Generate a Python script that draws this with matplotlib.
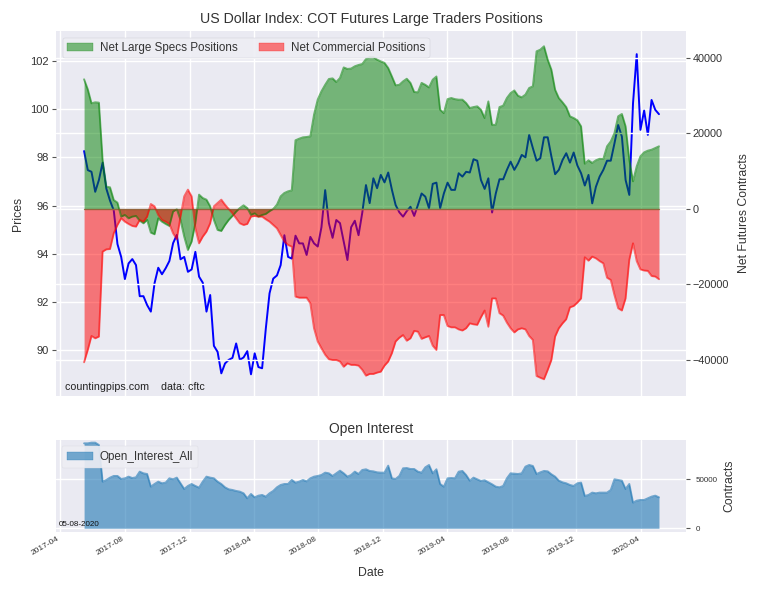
import pandas as pd
import matplotlib
matplotlib.use("Agg")
import matplotlib.pyplot as plt
import matplotlib.dates as mdates
from matplotlib.patches import Patch

plt.style.use("seaborn-v0_8")
plt.rcParams["font.family"] = ["Liberation Sans", "DejaVu Sans"]

# weekly COT report dates
dates = pd.date_range("2017-05-16", periods=156, freq="7D")

price = [98.26, 97.47, 97.4, 96.57, 97.06, 97.78, 96.7, 96.2, 95.8, 94.4, 93.87, 92.95, 93.6, 93.78, 93.53, 92.24,
         92.24, 91.87, 91.6, 92.78, 93.42, 93.15, 93.4, 93.7, 94.44, 94.78, 93.77, 93.87, 93.25, 93.35, 94.08, 93.05,
         92.8, 91.6, 92.29, 90.18, 89.93, 89.04, 89.45, 89.6, 89.68, 90.28, 89.6, 89.7, 89.96, 89.0, 89.87, 89.3,
         89.25, 90.9, 92.36, 92.97, 93.1, 93.53, 94.77, 93.87, 93.8, 94.75, 94.43, 94.43, 93.95, 94.7, 94.43, 94.3,
         95.1, 96.64, 95.27, 94.66, 95.4, 95.27, 94.5, 93.74, 95.1, 95.37, 94.77, 95.7, 96.85, 96.1, 97.13, 96.72,
         97.27, 96.96, 97.37, 96.65, 96.02, 95.72, 95.54, 95.77, 95.95, 95.57, 96.02, 96.5, 96.37, 95.89, 96.9, 96.95,
         95.89, 96.5, 96.95, 96.65, 96.65, 97.34, 97.2, 97.4, 97.37, 97.92, 97.86, 97.06, 96.69, 97.13, 95.71, 96.5,
         97.09, 97.09, 97.48, 97.82, 97.48, 97.75, 98.1, 98.0, 98.93, 98.38, 97.86, 97.96, 98.83, 98.83, 98.03, 97.3,
         97.48, 97.89, 98.17, 97.78, 98.2, 97.66, 97.34, 96.83, 97.27, 96.09, 96.78, 97.2, 97.48, 97.86, 97.86, 98.58,
         99.34, 98.86, 97.06, 96.44, 100.24, 102.28, 99.14, 99.94, 98.93, 100.38, 99.97, 99.79]

large_specs = [34350, 31700, 28000, 28260, 28170, 12980, 5920, 5740, 2384, 1680, -2030, -1590, -2470, -2030, -1850, -3090,
               -3800, -2900, -6270, -6700, -2470, -3360, -3970, -4500, -700, -90, -2900, -7330, -10860, -8650, -3800, 3800,
               2900, 2470, 700, -2900, -5560, -5830, -4240, -2900, -1850, -700, 260, 970, 260, -1590, -1150, -2030,
               -1590, -1320, -600, 0, 1150, 3350, 4240, 4680, 4940, 18200, 18630, 18980, 19070, 19250, 25000, 29000,
               31170, 32900, 34440, 34600, 33650, 34700, 37500, 37100, 37200, 37800, 38150, 38400, 39700, 40300, 40270, 39560,
               39100, 38700, 37350, 35100, 32760, 32900, 33800, 34500, 33400, 31000, 30900, 33400, 32900, 32200, 34260, 35100,
               26300, 25400, 29100, 29400, 29100, 28960, 28960, 28080, 26750, 27000, 27200, 26300, 24100, 28500, 22300, 22300,
               27000, 27370, 29400, 30700, 31400, 30000, 29580, 30300, 32050, 32500, 41770, 42200, 43100, 39560, 36900, 31600,
               29400, 28260, 27000, 24550, 24100, 23500, 21900, 12000, 12900, 12200, 12900, 13300, 13250, 16600, 17900, 20100,
               24550, 25170, 21900, 13070, 7330, 11300, 13950, 15000, 15450, 15700, 16160, 16600]

commercial = [-40600, -37350, -33640, -34260, -33800, -11300, -10700, -10600, -6450, -4240, -2470, -3360, -3970, -4500, -4680, -2900,
              -3360, -2030, 1320, 700, -1590, -2900, -3360, -3970, -6450, -8000, -2030, 3350, 5120, 3350, -5120, -9100,
              -7330, -6000, -3800, 700, 1590, 2470, 1150, 0, -1150, -2470, -3800, -4240, -3970, -2030, -1850, -2030,
              -2030, -2740, -3360, -4240, -5120, -6900, -8650, -9540, -9980, -23200, -23500, -23500, -23500, -25000, -31600, -35100,
              -36900, -38600, -39800, -40000, -40000, -40400, -41800, -40900, -41300, -41300, -41500, -42600, -44150, -43700, -43700, -43350,
              -43100, -41500, -40400, -38200, -35100, -34100, -33400, -34900, -34260, -32300, -32500, -34400, -34000, -33640, -36200, -37350,
              -28100, -28100, -31000, -31350, -31350, -31900, -32200, -31600, -30300, -30550, -30700, -28700, -26900, -31200, -23700, -23700,
              -27600, -28250, -30100, -31600, -32700, -31900, -31600, -31900, -33640, -34700, -44240, -44700, -45100, -42650, -40000, -33800,
              -31600, -30300, -29200, -26050, -25700, -24800, -23700, -12800, -13700, -12630, -13070, -13800, -14400, -18200, -18800, -22800,
              -26300, -26900, -23700, -13500, -9100, -13800, -16000, -16300, -16400, -17750, -17900, -18600]

open_interest = [86700, 86700, 87400, 87400, 85000, 47600, 49300, 51700, 53400, 53400, 50300, 51000, 52700, 51300, 52000, 57800,
                 56100, 55400, 42500, 45200, 47600, 45900, 46600, 51000, 50000, 51700, 45900, 40100, 43200, 45200, 43200, 41500,
                 47600, 52700, 51700, 51000, 47600, 45200, 41800, 39800, 39100, 38100, 37400, 35700, 30600, 35000, 31600, 33300,
                 34000, 32300, 35700, 38100, 41800, 44200, 45200, 45200, 49300, 46600, 47600, 49300, 47900, 51000, 52700, 53400,
                 54400, 56800, 56100, 53400, 56100, 58800, 56100, 52700, 54400, 57800, 55400, 59500, 60200, 58500, 58100, 57100,
                 56800, 56800, 63900, 51000, 50300, 53400, 61200, 61500, 60500, 60500, 57800, 56800, 62200, 64600, 56100, 60200,
                 45200, 42500, 51000, 51300, 51000, 57800, 58500, 54400, 48600, 51700, 50000, 48300, 49000, 46900, 44900, 42500,
                 41800, 43200, 51000, 56100, 55800, 55400, 56100, 62900, 64600, 63600, 55400, 57100, 58500, 58100, 55100, 52700,
                 48600, 46900, 45900, 44200, 43200, 45900, 46600, 33000, 34000, 36400, 35700, 36400, 36400, 36400, 39100, 50000,
                 49300, 48600, 40100, 45200, 26200, 28200, 28900, 28900, 30600, 32300, 33300, 31600]

price_ticks = [90, 92, 94, 96, 98, 100, 102]
net_ticks = [-40000, -20000, 0, 20000, 40000]
oi_ticks = [0, 50000]

text_color = "#333333"
label_size = 8.8
W, H = 760.0, 591.0

fig = plt.figure(figsize=(7.6, 5.91), dpi=100)
ax1 = fig.add_axes([56 / W, 1 - 396 / H, 630 / W, 365 / H])
ax3 = fig.add_axes([56 / W, 1 - 532 / H, 630 / W, 92 / H], sharex=ax1)

# price sits under the position fills, that's why it looks teal on green
ax1.plot(dates, price, color="blue", lw=1.4)
ax1.set_ylim(88.1, 103.24)
ax1.set_yticks(price_ticks)
ax1.set_ylabel("Prices", fontsize=label_size, color=text_color)
ax1.yaxis.set_label_coords(-0.05, 0.5)
ax1.set_title("US Dollar Index: COT Futures Large Traders Positions", fontsize=10.2, color=text_color, pad=6)
ax1.tick_params(axis="y", labelsize=8, length=3, width=0.8, pad=2, color="#555555", labelcolor=text_color, left=True)
ax1.tick_params(axis="x", labelbottom=False)

ax2 = ax1.twinx()
ax2.fill_between(dates, large_specs, 0, color="green", alpha=0.5, lw=0)
ax2.fill_between(dates, commercial, 0, color="red", alpha=0.5, lw=0)
ax2.plot(dates, large_specs, color="green", alpha=0.55, lw=1.4)
ax2.plot(dates, commercial, color="red", alpha=0.55, lw=1.4)
ax2.plot([dates[0], dates[-1]], [0, 0], color="#7a4a1a", alpha=0.7, lw=1)
ax2.set_ylim(-49540, 47150)
ax2.set_yticks(net_ticks)
ax2.set_ylabel("Net Futures Contracts", fontsize=label_size, color=text_color)
ax2.yaxis.set_label_coords(1.083, 0.5)
ax2.tick_params(axis="y", labelsize=7.8, length=3, width=0.8, pad=2, color="#555555", labelcolor=text_color, right=True)
ax2.grid(True, color="white", lw=1)
specs_patch = Patch(facecolor=(0, 0.5, 0, 0.5), edgecolor=(0, 0.5, 0, 0.6), label="Net Large Specs Positions")
comm_patch = Patch(facecolor=(1, 0, 0, 0.5), edgecolor=(1, 0, 0, 0.6), label="Net Commercial Positions")
ax2.legend(handles=[specs_patch, comm_patch], loc="upper left", ncol=2, fontsize=8.4, frameon=True, facecolor="#EEEEF4",
           edgecolor="#C8C8D0", framealpha=0.9, borderaxespad=0.6, labelcolor=text_color, handlelength=2.2,
           handletextpad=0.6, columnspacing=1.8, borderpad=0.35)

ax3.fill_between(dates, open_interest, 0, color="#1f77b4", alpha=0.6, lw=0)
ax3.plot(dates, open_interest, color="#1f77b4", alpha=0.6, lw=1.4)
ax3.set_ylim(-3800, 90100)
ax3.set_yticks(oi_ticks)
ax3.yaxis.tick_right()
ax3.yaxis.set_label_position("right")
ax3.set_ylabel("Contracts", fontsize=label_size, color=text_color)
ax3.yaxis.set_label_coords(1.059, 0.5)
ax3.set_xlabel("Date", fontsize=label_size, color=text_color)
ax3.xaxis.set_label_coords(0.5, -0.38)
ax3.set_title("Open Interest", fontsize=10, color=text_color, pad=5)
ax3.tick_params(axis="y", labelsize=5.8, length=3, width=0.8, pad=4, color="#555555", labelcolor=text_color, right=True)
ax3.tick_params(axis="x", labelsize=6, labelcolor=text_color, pad=2)
oi_patch = Patch(facecolor=(0.12, 0.47, 0.71, 0.6), edgecolor=(0.12, 0.47, 0.71, 0.7), label="Open_Interest_All")
ax3.legend(handles=[oi_patch], loc="upper left", fontsize=8.4, frameon=True, facecolor="#EEEEF4", edgecolor="#D8D8E0",
           framealpha=0.9, borderaxespad=0.5, labelcolor=text_color, handlelength=2.2, handletextpad=0.6, borderpad=0.45)

fig.text(65 / W, 1 - 387 / H, "countingpips.com    data: cftc", fontsize=7.7, color="#222222", va="center")
fig.text(59 / W, 1 - 525 / H, "05-08-2020", fontsize=5.8, color="#111111", va="center")

ax3.set_xlim(pd.Timestamp("2017-03-24"), pd.Timestamp("2020-06-25"))
ax3.xaxis.set_major_locator(mdates.MonthLocator(bymonth=[4, 8, 12]))
ax3.xaxis.set_major_formatter(mdates.DateFormatter("%Y-%m"))
plt.setp(ax3.get_xticklabels(), rotation=30, ha="right")

fig.savefig("out.png", dpi=100)
